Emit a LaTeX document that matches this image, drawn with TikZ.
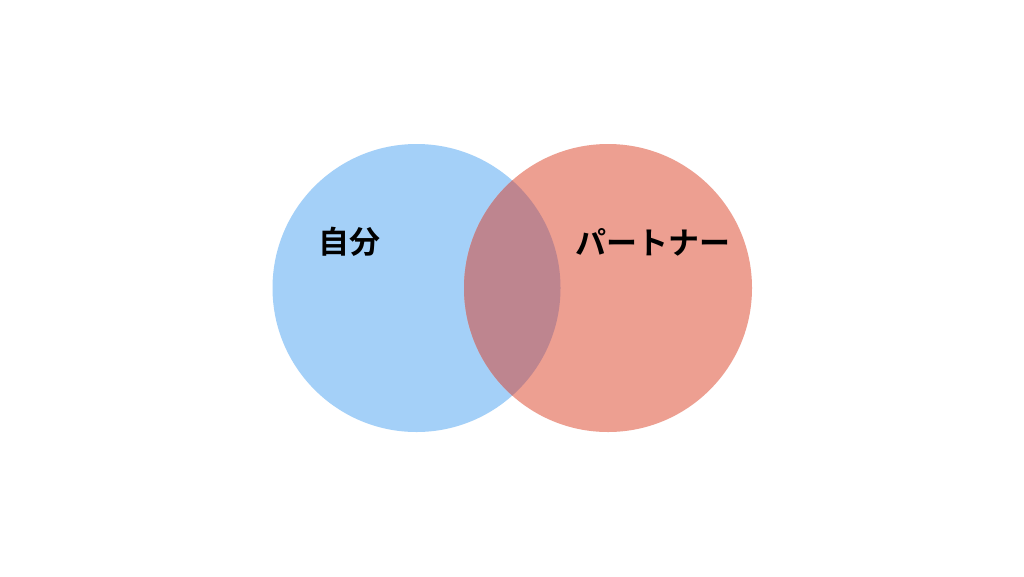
\documentclass[tikz,border=0pt]{standalone}
\usepackage{fontspec}
\newfontfamily\cjk{Noto Sans CJK JP}[BoldFont={* Bold}]
\definecolor{selfblue}{HTML}{A4D0F8}
\definecolor{partnerred}{HTML}{ED9F91}
\definecolor{overlapc}{HTML}{BE858F}
\begin{document}
\begin{tikzpicture}[x=1pt,y=-1pt,
  lbl/.style={font=\cjk\bfseries\fontsize{31}{34}\selectfont, text=black, inner sep=0pt}]
\useasboundingbox[fill=white] (0,0) rectangle (1024,576);
\fill[selfblue] (416.5,288) circle[radius=144];
\fill[partnerred] (608,288) circle[radius=144];
\begin{scope}
  \clip (416.5,288) circle[radius=144];
  \fill[overlapc] (608,288) circle[radius=144];
\end{scope}
\node[lbl] (self) at (349,242) {自分};
\node[lbl] (partner) at (653,242) {パートナー};
\end{tikzpicture}
\end{document}
